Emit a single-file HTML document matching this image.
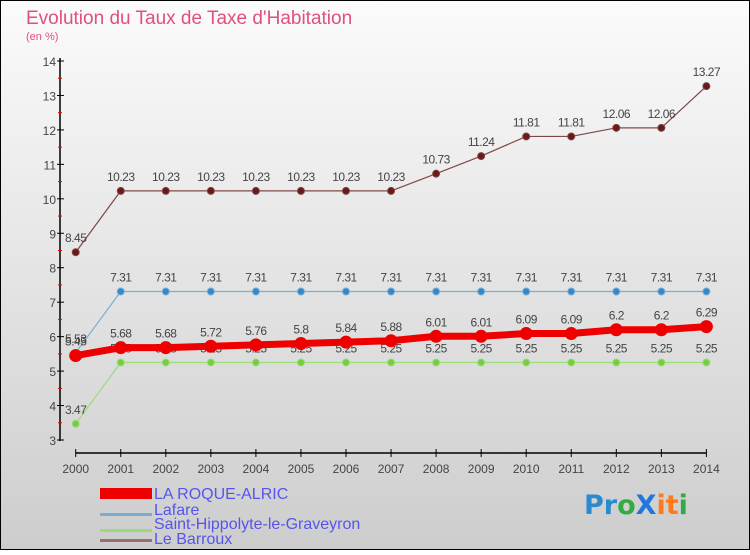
<!DOCTYPE html>
<html><head><meta charset="utf-8"><style>
html,body{margin:0;padding:0}
body{width:750px;height:550px;overflow:hidden;font-family:"Liberation Sans",sans-serif}
</style></head><body>
<svg width="750" height="550" xmlns="http://www.w3.org/2000/svg">
<defs><linearGradient id="bg" x1="0" y1="0" x2="0" y2="1"><stop offset="0" stop-color="#fbfbfb"/><stop offset="1" stop-color="#cdcdcd"/></linearGradient></defs>
<rect x="0.5" y="0.5" width="749" height="549" fill="url(#bg)" stroke="#000"/>
<text x="26" y="24" font-size="19" fill="#e0507a">Evolution du Taux de Taxe d'Habitation</text>
<text x="26" y="40" font-size="11" fill="#e0507a">(en %)</text>
<g id="axes"></g><g id="series"></g>
<g font-size="16" fill="#5555ee">
<rect x="100" y="488" width="52" height="11" fill="#ee0000"/>
<text x="154" y="499">LA ROQUE-ALRIC</text>
<rect x="100" y="513" width="52" height="3" fill="#7aaed0"/>
<text x="154" y="515">Lafare</text>
<rect x="100" y="529" width="52" height="3" fill="#99dd77"/>
<text x="154" y="529">Saint-Hippolyte-le-Graveyron</text>
<rect x="100" y="539" width="52" height="3" fill="#997070"/>
<text x="154" y="544">Le Barroux</text>
</g>
<g font-size="27" font-weight="bold" font-family="'DejaVu Sans',sans-serif">
<text x="584" y="514"><tspan fill="#2a8ad0">Pr</tspan><tspan fill="#33aa44">o</tspan><tspan fill="#2277dd">X</tspan><tspan fill="#ff7a1a">it</tspan><tspan fill="#33aa44">i</tspan></text>
</g>
</svg>
<script>
const years=[2000,2001,2002,2003,2004,2005,2006,2007,2008,2009,2010,2011,2012,2013,2014];
const yTicks=[3,4,5,6,7,8,9,10,11,12,13,14];
const roque=[5.45,5.68,5.68,5.72,5.76,5.8,5.84,5.88,6.01,6.01,6.09,6.09,6.2,6.2,6.29];
const lafare=[5.53,7.31,7.31,7.31,7.31,7.31,7.31,7.31,7.31,7.31,7.31,7.31,7.31,7.31,7.31];
const hippo=[3.47,5.25,5.25,5.25,5.25,5.25,5.25,5.25,5.25,5.25,5.25,5.25,5.25,5.25,5.25];
const barroux=[8.45,10.23,10.23,10.23,10.23,10.23,10.23,10.23,10.73,11.24,11.81,11.81,12.06,12.06,13.27];
const NS="http://www.w3.org/2000/svg";
const X=i=>75.7+i*(706.4-75.7)/(years.length-1);
const Y=v=>440-(v-3)*(440-61)/11;
function mk(t,a,p){const e=document.createElementNS(NS,t);for(const k in a)e.setAttribute(k,a[k]);p.appendChild(e);return e;}
const ax=document.getElementById('axes');
const yl=mk('line',{x1:60,y1:58,x2:60,y2:441,stroke:'#000','stroke-width':1.5},ax);


yTicks.forEach(v=>{mk('line',{x1:57,x2:64,y1:Y(v),y2:Y(v),stroke:'#000'},ax);
 if(v<14)mk('line',{x1:58,x2:62,y1:Y(v+0.5),y2:Y(v+0.5),stroke:'#e00'},ax);
 const t=mk('text',{x:56,y:Y(v)+5,'text-anchor':'end','font-size':12,fill:'#444'},ax);t.textContent=v;
 
 });
const xl=mk('line',{x1:75.7,y1:453,x2:706.4,y2:453,stroke:'#000','stroke-width':1.5},ax);


years.forEach((y,i)=>{mk('line',{x1:X(i),x2:X(i),y1:449,y2:457,stroke:'#000'},ax);
 const t=mk('text',{x:X(i),y:473,'text-anchor':'middle','font-size':12,fill:'#444'},ax);t.textContent=y;
 
 });
const sg=document.getElementById('series');
function series(name,vals,color,lw,r,dot){
 const g=mk('g',{},sg);
 
 
 mk('polyline',{points:vals.map((v,i)=>X(i)+','+Y(v)).join(' '),fill:'none',stroke:color,'stroke-width':lw,'stroke-linejoin':'round'},g);
 vals.forEach((v,i)=>{const c=mk('circle',{cx:X(i),cy:Y(v),r:r,fill:dot,stroke:color,'stroke-width':1},g);
  
  
  const t=mk('text',{x:X(i),y:Y(v)-10,'text-anchor':'middle','font-size':12,fill:'#444','letter-spacing':'-0.5'},g);t.textContent=String(v);
  
  });
}
series('saint-hippolyte',hippo,'#99dd77',1.2,3.5,'#77cc44');
series('lafare',lafare,'#7aaed0',1.2,3.5,'#3388cc');
series('la-roque-alric',roque,'#ee0000',7,6,'#ee0000');
series('le-barroux',barroux,'#804848',1.2,3.5,'#661a1a');
</script>
</body></html>
